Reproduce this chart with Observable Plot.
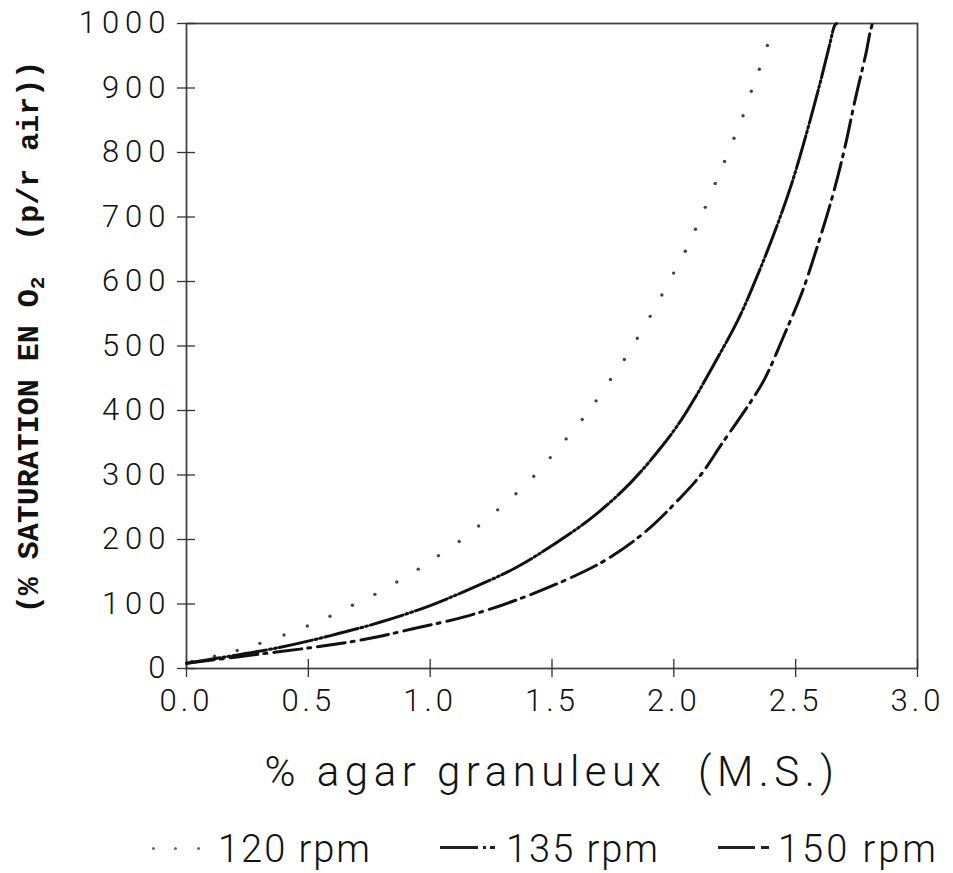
<!DOCTYPE html>
<html><head><meta charset="utf-8">
<script src="https://cdn.jsdelivr.net/npm/d3@7"></script>
<script src="https://cdn.jsdelivr.net/npm/@observablehq/plot@0.6"></script>
<style>
body{margin:0;background:#fff;width:953px;height:873px;overflow:hidden;position:relative;}
#chart svg{display:block;}
.leg{position:absolute;top:830px;font-family:Roboto,sans-serif;font-weight:300;font-size:38px;letter-spacing:2px;color:#111;white-space:pre;line-height:1;}
.dash{position:absolute;height:3px;background:#222;top:846px;}
.dot{position:absolute;width:3px;height:3px;border-radius:50%;background:#666;top:847px;}
</style></head><body><div id="chart"></div>
<div class="dot" style="left:152px"></div>
<div class="dot" style="left:174px"></div>
<div class="dot" style="left:197px"></div>
<div class="leg" id="l1" style="left:218px"></div>
<div class="dash" style="left:440px;width:38px"></div>
<div class="dash" style="left:483px;width:3px"></div>
<div class="dash" style="left:490px;width:5px"></div>
<div class="leg" id="l2" style="left:506px"></div>
<div class="dash" style="left:718px;width:37px"></div>
<div class="dash" style="left:761px;width:8px"></div>
<div class="leg" id="l3" style="left:778px;letter-spacing:3px"></div>
<script>
const xTicks = [0, 0.5, 1.0, 1.5, 2.0, 2.5, 3.0];
const yTicks = [0, 100, 200, 300, 400, 500, 600, 700, 800, 900, 1000];
const seriesNames = ["120 rpm", "135 rpm", "150 rpm"];
const xLabel = "% agar granuleux\u00a0\u00a0(M.S.)";

const x120 = [0.022, 0.115, 0.208, 0.301, 0.40, 0.496, 0.589, 0.681, 0.773, 0.863, 0.951, 1.034, 1.119, 1.199, 1.277, 1.352, 1.425, 1.493, 1.558, 1.624, 1.681, 1.740, 1.797, 1.850, 1.903, 1.951, 1.999, 2.047, 2.089, 2.129, 2.170, 2.208, 2.247, 2.284, 2.318, 2.351, 2.384];
const y120 = [11, 19, 28, 39, 52, 66, 81, 98, 115, 134, 154, 175, 197, 221, 246, 271, 298, 327, 356, 386, 415, 448, 479, 512, 546, 579, 613, 647, 681, 715, 752, 786, 822, 857, 895, 929, 966];

const x135 = [0, 0.112, 0.386, 0.592, 0.797, 1.003, 1.167, 1.345, 1.510, 1.674, 1.825, 1.948, 2.030, 2.092, 2.174, 2.263, 2.346, 2.421, 2.483, 2.544, 2.599, 2.640, 2.660, 2.668];
const y135 = [8, 15, 33, 51, 72, 98, 124, 155, 193, 237, 289, 343, 385, 423, 478, 540, 612, 684, 751, 829, 906, 968, 997, 1000];

const x150 = [0, 0.208, 0.523, 0.743, 0.934, 1.140, 1.345, 1.537, 1.715, 1.880, 2.030, 2.110, 2.200, 2.318, 2.373, 2.455, 2.524, 2.592, 2.654, 2.702, 2.743, 2.791, 2.804, 2.815];
const y150 = [8, 18, 33, 46, 62, 80, 105, 134, 167, 211, 266, 300, 350, 415, 449, 519, 581, 658, 736, 808, 880, 958, 984, 1000];

const toRows = (xs, ys) => xs.map((x, i) => ({x, y: ys[i]}));
const d120 = toRows(x120, y120);
const d135 = toRows(x135, y135);
const d150 = toRows(x150, y150);

const plot = Plot.plot({
  width: 953, height: 810,
  marginLeft: 186, marginRight: 36, marginTop: 23, marginBottom: 142,
  x: {domain: [0, 3]},
  y: {domain: [0, 1000]},
  style: {fontFamily: "Roboto, sans-serif", fontWeight: 300, color: "#111", background: "#fff"},
  marks: [
    Plot.frame({stroke: "#444", strokeWidth: 1.8}),
    Plot.axisY({ticks: yTicks, tickSize: 18, dx: 9, tickFormat: () => "", label: null, stroke: "#333", strokeWidth: 1.3}),
    Plot.axisY({ticks: yTicks, tickSize: 0, tickPadding: 15, tickFormat: d => String(d), label: null, fontSize: 31}),
    Plot.axisX({ticks: xTicks, tickSize: 18, dy: -9, tickFormat: () => "", label: null, stroke: "#333", strokeWidth: 1.3}),
    Plot.axisX({ticks: xTicks, tickSize: 0, tickPadding: 20, tickFormat: d3.format(".1f"), label: null, fontSize: 31}),
    Plot.text([xLabel], {frameAnchor: "bottom", dy: 117, fontSize: 42, fontWeight: 300, fill: "#111"}),
    Plot.dot(d120, {x: "x", y: "y", r: 1.7, fill: "#444", stroke: null}),
    Plot.line(d135, {x: "x", y: "y", curve: "catmull-rom", stroke: "#111", strokeWidth: 3, strokeDasharray: "34,3,2,3,2,3"}),
    Plot.line(d150, {x: "x", y: "y", curve: "catmull-rom", stroke: "#111", strokeWidth: 3, strokeDasharray: "28,6,3,7"})
  ]
});
document.getElementById("chart").appendChild(plot);

// letter spacing on tick labels like the plotter font
d3.select(plot).selectAll("g[aria-label='y-axis tick label'] text").attr("letter-spacing", 6);
d3.select(plot).selectAll("g[aria-label='x-axis tick label'] text").attr("letter-spacing", 4);
d3.select(plot).selectAll("g[aria-label='text'] text").attr("letter-spacing", 5.5);

// rotated y-axis title with subscript
const svg = d3.select(plot);
const t = svg.append("text")
  .attr("transform", "translate(30,337) rotate(-90)")
  .attr("text-anchor", "middle")
  .attr("dominant-baseline", "middle")
  .attr("font-family", "'Liberation Mono', 'DejaVu Sans Mono', monospace")
  .attr("font-weight", "bold")
  .attr("font-size", 30)
  .attr("fill", "#111");
t.append("tspan").text("(% SATURATION EN O");
t.append("tspan").attr("font-size", 21).attr("dy", 8).text("2");
t.append("tspan").attr("dy", -8).text("\u00a0\u00a0(p/r air))");

["l1", "l2", "l3"].forEach((id, i) => {
  document.getElementById(id).textContent = seriesNames[i];
});
</script>
</body></html>
